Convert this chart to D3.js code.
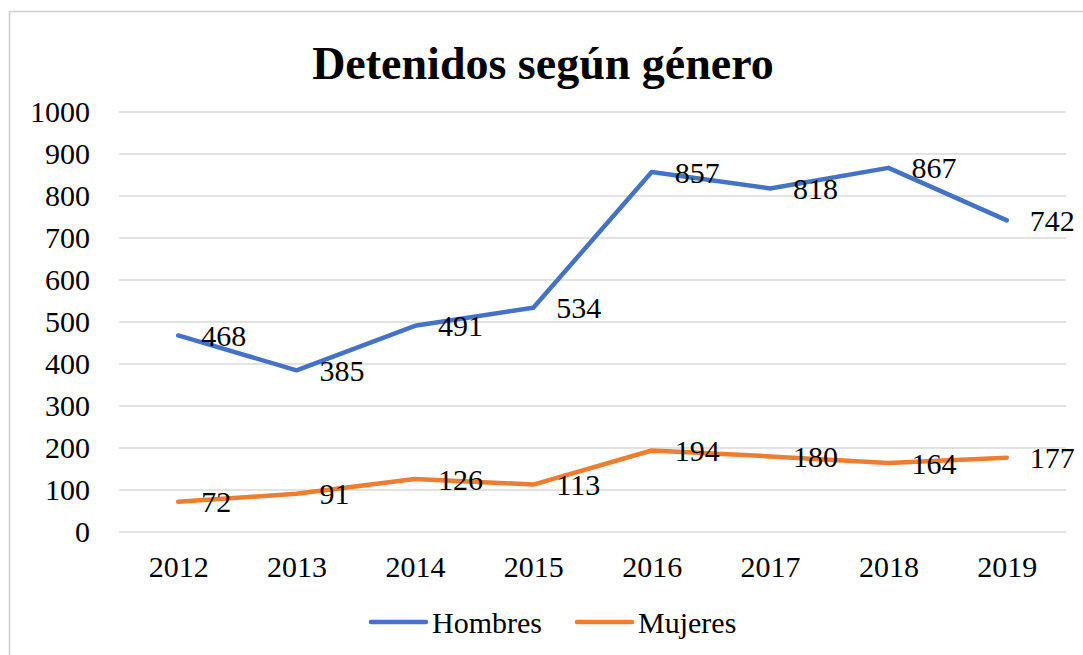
<!DOCTYPE html>
<html>
<head>
<meta charset="utf-8">
<script src="https://cdn.jsdelivr.net/npm/d3@7"></script>
<style>
  html, body { margin: 0; padding: 0; background: #fff; }
  svg { display: block; font-family: "Liberation Serif", "Times New Roman", serif; }
</style>
</head>
<body>
<svg id="chart" width="1083" height="655"></svg>
<script>
// data
var years = ["2012", "2013", "2014", "2015", "2016", "2017", "2018", "2019"];
var hombres = [468, 385, 491, 534, 857, 818, 867, 742];
var mujeres = [72, 91, 126, 113, 194, 180, 164, 177];
var yTicks = [0, 100, 200, 300, 400, 500, 600, 700, 800, 900, 1000];
var seriesNames = ["Hombres", "Mujeres"];
var seriesColors = ["#4472C4", "#ED7D31"];

var svg = d3.select("#chart");

// plot area
var plot = { left: 119, right: 1066, top: 112, bottom: 532 };

// outer chart border (only top/left are in the crop)
svg.append("rect")
    .attr("x", 9.5)
    .attr("y", 11.5)
    .attr("width", 1100)
    .attr("height", 700)
    .attr("fill", "none")
    .attr("stroke", "#d0d0d0")
    .attr("stroke-width", 1.5);

// title
svg.append("text")
    .attr("x", 543)
    .attr("y", 79)
    .attr("text-anchor", "middle")
    .style("font-size", "46px")
    .style("font-weight", "bold")
    .text("Detenidos según género");

// scales
var xScale = d3.scalePoint()
    .domain(years)
    .range([plot.left, plot.right])
    .padding(0.5);

var yScale = d3.scaleLinear()
    .domain([0, 1000])
    .range([plot.bottom, plot.top]);

// horizontal grid lines
svg.append("g")
    .attr("class", "grid")
    .selectAll("line")
    .data(yTicks)
    .enter().append("line")
    .attr("x1", plot.left)
    .attr("x2", plot.right)
    .attr("y1", d => yScale(d))
    .attr("y2", d => yScale(d))
    .attr("stroke", "#d9d9d9")
    .attr("stroke-width", 1.5);

// y axis (labels only)
var yAxis = svg.append("g")
    .attr("transform", "translate(90,0)")
    .call(d3.axisLeft(yScale).tickValues(yTicks).tickSize(0).tickPadding(0).tickFormat(d3.format("d")));
yAxis.select(".domain").remove();
yAxis.selectAll("text")
    .style("font-family", "Liberation Serif, serif")
    .style("font-size", "30px")
    .attr("fill", "#000");

// x axis (labels only)
var xAxis = svg.append("g")
    .attr("transform", "translate(0," + plot.bottom + ")")
    .call(d3.axisBottom(xScale).tickSize(0).tickPadding(0));
xAxis.select(".domain").remove();
xAxis.selectAll("text")
    .style("font-family", "Liberation Serif, serif")
    .style("font-size", "30px")
    .attr("fill", "#000")
    .attr("dy", null)
    .attr("y", 45);

// lines
var line = d3.line()
    .x((d, i) => xScale(years[i]))
    .y(d => yScale(d));

[hombres, mujeres].forEach(function (values, s) {
    svg.append("path")
        .datum(values)
        .attr("fill", "none")
        .attr("stroke", seriesColors[s])
        .attr("stroke-width", 4.5)
        .attr("stroke-linejoin", "round")
        .attr("stroke-linecap", "round")
        .attr("d", line);

    // data labels, to the right of each point
    svg.append("g")
        .selectAll("text")
        .data(values)
        .enter().append("text")
        .attr("x", (d, i) => xScale(years[i]) + 23)
        .attr("y", d => yScale(d))
        .attr("dy", "0.35em")
        .style("font-size", "30px")
        .text(d => d);
});

// legend
var legendX = [371, 577];
var legend = svg.append("g").attr("class", "legend");
seriesNames.forEach(function (name, s) {
    legend.append("line")
        .attr("x1", legendX[s])
        .attr("x2", legendX[s] + 55)
        .attr("y1", 622)
        .attr("y2", 622)
        .attr("stroke", seriesColors[s])
        .attr("stroke-width", 4.5)
        .attr("stroke-linecap", "round");
    legend.append("text")
        .attr("x", legendX[s] + 61)
        .attr("y", 622)
        .attr("dy", "0.35em")
        .style("font-size", "30px")
        .text(name);
});
</script>
</body>
</html>
